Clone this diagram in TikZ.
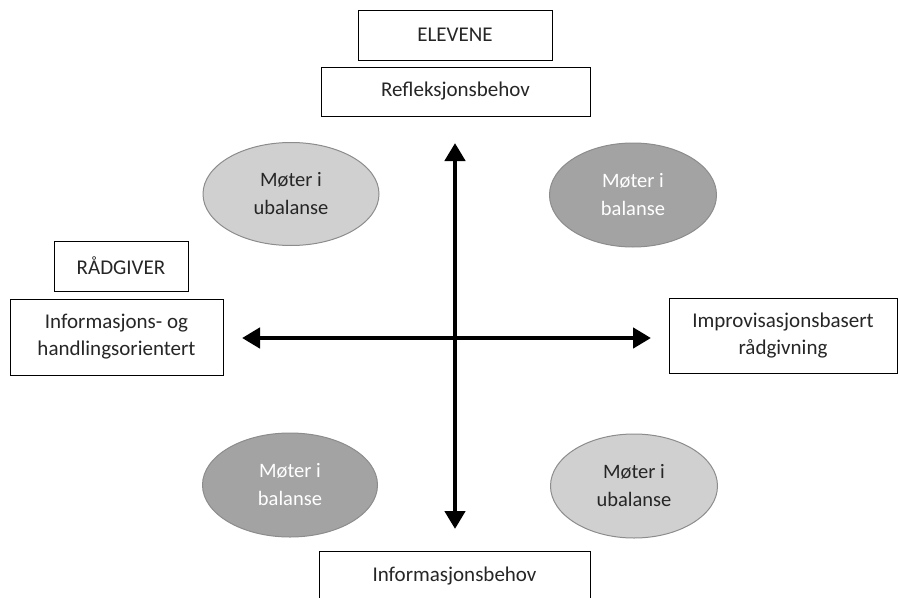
\documentclass[tikz,border=0pt]{standalone}
\usepackage{fontspec}
\setmainfont{Carlito}
\usetikzlibrary{arrows.meta,shapes.geometric}
\definecolor{txt}{HTML}{262626}
\definecolor{lightfill}{HTML}{D0D0D0}
\definecolor{darkfill}{HTML}{A3A3A3}
\definecolor{ellline}{HTML}{8C8C8C}
\begin{document}
\begin{tikzpicture}[x=1pt,y=-1pt,
  box/.style={draw=black,line width=0.9pt,fill=white,text=txt,font=\fontsize{21}{27}\selectfont,align=center,inner sep=0pt},
  lightell/.style={ellipse,draw=ellline,line width=1pt,fill=lightfill,text=txt,font=\fontsize{20.5}{28}\selectfont,align=center,inner sep=0pt},
  darkell/.style={ellipse,draw=ellline,line width=1pt,fill=darkfill,text=white,font=\fontsize{20.5}{28}\selectfont,align=center,inner sep=0pt},
  axis/.style={line width=4.5pt,{Triangle[length=18pt,width=20pt]}-{Triangle[length=18pt,width=20pt]}}]
\useasboundingbox (0,0) rectangle (899,597);
\begin{scope}
\clip (0,0) rectangle (899,597);
\node[box,minimum width=194pt,minimum height=50pt] (elev) at (455,35) {ELEVENE};
\node[box,minimum width=269pt,minimum height=49pt] (refl) at (455.5,91.5) {Refleksjonsbehov};
\node[box,minimum width=134pt,minimum height=50pt] (rad) at (121,266) {RÅDGIVER};
\node[box,minimum width=213pt,minimum height=76pt] (info) at (116.5,337) {Informasjons- og\\handlingsorientert};
\node[box,minimum width=228pt,minimum height=75pt] (impr) at (783,335.5) {Improvisasjonsbasert\\rådgivning};
\node[box,minimum width=271pt,minimum height=50pt] (infb) at (454.5,576) {Informasjonsbehov};
\end{scope}
\node[lightell,minimum width=176pt,minimum height=103pt] (ul) at (291,194) {Møter i\\ubalanse};
\node[darkell,minimum width=167pt,minimum height=104pt] (ur) at (633,195) {Møter i\\balanse};
\node[darkell,minimum width=175pt,minimum height=104pt] (ll) at (290,485) {Møter i\\balanse};
\node[lightell,minimum width=167pt,minimum height=104pt] (lr) at (634,486) {Møter i\\ubalanse};
\coordinate (vt) at (455,143);
\coordinate (vb) at (455,529);
\coordinate (hl) at (242,338);
\coordinate (hr) at (651,338);
\draw[axis] (vt) -- (vb);
\draw[axis] (hl) -- (hr);
\end{tikzpicture}
\end{document}
